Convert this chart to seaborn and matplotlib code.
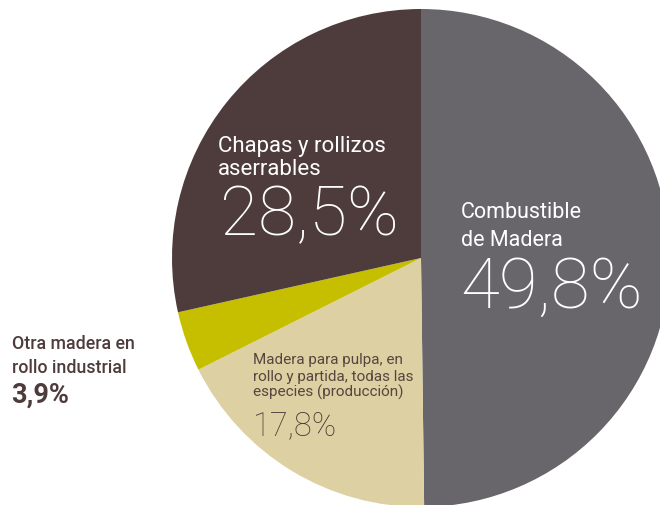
"""
Pie of roundwood production by use (Spanish labels), redrawn with seaborn styling.
"""

import matplotlib
matplotlib.use("Agg")
import matplotlib.pyplot as plt
import seaborn as sns

# data, clockwise from 12 o'clock
categories = [
    "Combustible\nde Madera",
    "Madera para pulpa, en\nrollo y partida, todas las\nespecies (producción)",
    "Otra madera en\nrollo industrial",
    "Chapas y rollizos\naserrables",
]
shares = [49.8, 17.8, 3.9, 28.5]
share_labels = ["49,8%", "17,8%", "3,9%", "28,5%"]
colors = ["#68666b", "#ddd0a2", "#c5bf00", "#4e3c3c"]

sns.set_theme(style="white")
plt.rcParams["font.family"] = ["Roboto", "DejaVu Sans"]

W, H = 660, 506
fig = plt.figure(figsize=(W / 100, H / 100), dpi=100)
ax = fig.add_axes([0, 0, 1, 1])

# pixel geometry of the pie (y measured from top in the picture)
cx, cy, r = 421, 259, 249
ax.pie(shares, colors=sns.color_palette(colors), startangle=90,
       counterclock=False, center=(cx, H - cy), radius=r,
       wedgeprops=dict(linewidth=0))
ax.set_xlim(0, W)
ax.set_ylim(0, H)
ax.set_aspect("equal")
ax.axis("off")


def put_lines(text, x, y_base, size, spacing, color, weight="normal"):
    # one text per line so baselines land where the picture has them
    for i, line in enumerate(text.split("\n")):
        ax.text(x, H - (y_base + i * spacing), line, fontsize=size,
                color=color, fontweight=weight, ha="left", va="baseline")


# Combustible de Madera
put_lines(categories[0], 461, 218, 15.5, 28, "white")
ax.text(460, H - 308, share_labels[0], fontsize=51, color="white",
        fontweight="ultralight", ha="left", va="baseline")

# Madera para pulpa
put_lines(categories[1], 253, 364, 11, 16.5, "#55463f")
ax.text(252, H - 435, share_labels[1], fontsize=23.5, color="#4a3a36",
        fontweight="light", ha="left", va="baseline")

# Otra madera (label outside the pie)
put_lines(categories[2], 12, 349, 12.8, 24, "#4e3c3c", weight="medium")
ax.text(11, H - 403, share_labels[2], fontsize=19.5, color="#4e3c3c",
        fontweight="bold", ha="left", va="baseline")

# Chapas y rollizos
put_lines(categories[3], 218, 152, 16, 23, "white")
ax.text(220, H - 235, share_labels[3], fontsize=50, color="white",
        fontweight="ultralight", ha="left", va="baseline")

fig.savefig("out.png", dpi=100, facecolor="white")
plt.close(fig)
